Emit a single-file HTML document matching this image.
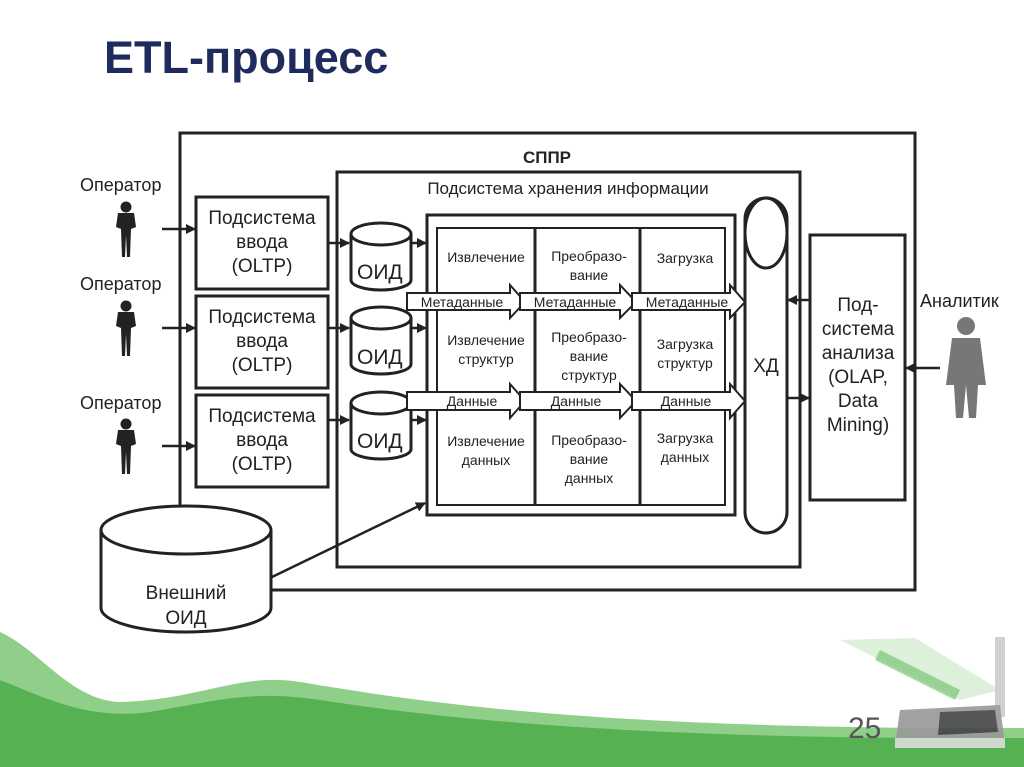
<!DOCTYPE html>
<html><head><meta charset="utf-8"><style>
html,body{margin:0;padding:0;background:#fff}
svg{display:block}
text{font-family:"Liberation Sans",sans-serif;fill:#222}
</style></head><body>
<svg width="1024" height="767" viewBox="0 0 1024 767" xmlns="http://www.w3.org/2000/svg">
<defs>
<marker id="ah" markerWidth="10" markerHeight="10" refX="9" refY="5" orient="auto" markerUnits="userSpaceOnUse"><path d="M0,0 L10,5 L0,10 z" fill="#222"/></marker>
<g id="op"><circle cx="0" cy="-22" r="5.5" fill="#222"/><path d="M-8,-16 L8,-16 L10,-2 L5,0 L4,28 L1,28 L0,6 L-1,28 L-4,28 L-5,0 L-10,-2 z" fill="#222"/></g>
</defs>
<path d="M0,632 C40,650 70,700 120,702 C200,700 240,672 300,682 C420,702 600,730 1024,728 L1024,767 L0,767 z" fill="#8fcf8a"/>
<path d="M0,680 C50,700 90,720 150,712 C220,700 250,690 320,700 C450,720 650,740 1024,738 L1024,767 L0,767 z" fill="#55b152"/>
<g opacity="0.9">
<path d="M840,640 L915,638 L1000,690 L960,700 z" fill="#bfe2bb" opacity="0.6"/>
<path d="M880,650 L960,690 L955,700 L875,660z" fill="#6fbf6a" opacity="0.7"/>
<rect x="995" y="637" width="10" height="80" fill="#ccc"/>
<path d="M900,710 L1000,705 L1005,745 L895,745 z" fill="#999"/>
<path d="M940,712 L995,710 L998,732 L938,735 z" fill="#444"/>
<path d="M895,738 L1005,738 L1005,748 L895,748z" fill="#ddd"/>
</g>
<text x="848" y="738" font-size="30" style="fill:#555">25</text>
<text x="104" y="73" font-size="45" font-weight="bold" style="fill:#1e2b5c">ETL-процесс</text>
<g fill="none" stroke="#222" stroke-width="3">
<rect x="180" y="133" width="735" height="457"/>
<rect x="337" y="172" width="463" height="395"/>
<rect x="427" y="215" width="308" height="300"/>
<rect x="437" y="228" width="288" height="277" stroke-width="2"/>
<rect x="196" y="197" width="132" height="92"/>
<rect x="196" y="296" width="132" height="92"/>
<rect x="196" y="395" width="132" height="92"/>
<rect x="810" y="235" width="95" height="265"/>
<rect x="745" y="198" width="42" height="335" rx="21"/>
<ellipse cx="766" cy="233" rx="21" ry="35"/>
</g>
<g stroke="#222" stroke-width="3">
<line x1="535" y1="228" x2="535" y2="505"/>
<line x1="640" y1="228" x2="640" y2="505"/>
</g>
<g fill="#fff" stroke="#222" stroke-width="3">
<path d="M351,234 L351,280 A30,10 0 0 0 411,280 L411,234"/><ellipse cx="381" cy="234" rx="30" ry="11"/>
<path d="M351,318 L351,364 A30,10 0 0 0 411,364 L411,318"/><ellipse cx="381" cy="318" rx="30" ry="11"/>
<path d="M351,403 L351,449 A30,10 0 0 0 411,449 L411,403"/><ellipse cx="381" cy="403" rx="30" ry="11"/>
<path d="M101,530 L101,608 A85,24 0 0 0 271,608 L271,530"/><ellipse cx="186" cy="530" rx="85" ry="24"/>
</g>
<g font-size="21"><text x="357" y="279">ОИД</text><text x="357" y="364">ОИД</text><text x="357" y="448">ОИД</text></g>
<text x="186" y="599" font-size="19" text-anchor="middle">Внешний</text>
<text x="186" y="624" font-size="19" text-anchor="middle">ОИД</text>
<g fill="#fff" stroke="#222" stroke-width="2">
<path d="M407,293 L510,293 L510,285 L525,302 L510,318 L510,310 L407,310 z"/>
<path d="M520,293 L620,293 L620,285 L636,302 L620,318 L620,310 L520,310 z"/>
<path d="M632,293 L730,293 L730,285 L745,302 L730,318 L730,310 L632,310 z"/>
<path d="M407,392 L510,392 L510,384 L525,401 L510,418 L510,410 L407,410 z"/>
<path d="M520,392 L620,392 L620,384 L636,401 L620,418 L620,410 L520,410 z"/>
<path d="M632,392 L730,392 L730,384 L745,401 L730,418 L730,410 L632,410 z"/>
</g>
<g font-size="14" text-anchor="middle">
<text x="462" y="307">Метаданные</text><text x="575" y="307">Метаданные</text><text x="687" y="307">Метаданные</text>
<text x="472" y="406">Данные</text><text x="576" y="406">Данные</text><text x="686" y="406">Данные</text>
<text x="486" y="262">Извлечение</text>
<text x="589" y="261">Преобразо-</text><text x="589" y="280">вание</text>
<text x="685" y="263">Загрузка</text>
<text x="486" y="345">Извлечение</text><text x="486" y="364">структур</text>
<text x="589" y="342">Преобразо-</text><text x="589" y="361">вание</text><text x="589" y="380">структур</text>
<text x="685" y="349">Загрузка</text><text x="685" y="368">структур</text>
<text x="486" y="446">Извлечение</text><text x="486" y="465">данных</text>
<text x="589" y="445">Преобразо-</text><text x="589" y="464">вание</text><text x="589" y="483">данных</text>
<text x="685" y="443">Загрузка</text><text x="685" y="462">данных</text>
</g>
<text x="547" y="163" font-size="17" font-weight="bold" text-anchor="middle">СППР</text>
<text x="568" y="194" font-size="17" text-anchor="middle">Подсистема хранения информации</text>
<text x="766" y="372" font-size="19" text-anchor="middle">ХД</text>
<g font-size="19" text-anchor="middle">
<text x="262" y="224">Подсистема</text><text x="262" y="248">ввода</text><text x="262" y="272">(OLTP)</text>
<text x="262" y="323">Подсистема</text><text x="262" y="347">ввода</text><text x="262" y="371">(OLTP)</text>
<text x="262" y="422">Подсистема</text><text x="262" y="446">ввода</text><text x="262" y="470">(OLTP)</text>
<text x="858" y="311">Под-</text><text x="858" y="335">система</text><text x="858" y="359">анализа</text><text x="858" y="383">(OLAP,</text><text x="858" y="407">Data</text><text x="858" y="431">Mining)</text>
</g>
<g font-size="18">
<text x="80" y="191">Оператор</text><text x="80" y="290">Оператор</text><text x="80" y="409">Оператор</text>
<text x="920" y="307">Аналитик</text>
</g>
<use href="#op" x="126" y="229"/><use href="#op" x="126" y="328"/><use href="#op" x="126" y="446"/>
<g fill="#777"><circle cx="966" cy="326" r="9"/><path d="M952,338 L980,338 L986,385 L978,385 L976,418 L969,418 L966,385 L963,418 L956,418 L954,385 L946,385 z"/></g>
<g stroke="#222" stroke-width="2.5" marker-end="url(#ah)" fill="none">
<line x1="162" y1="229" x2="195" y2="229"/><line x1="162" y1="328" x2="195" y2="328"/><line x1="162" y1="446" x2="195" y2="446"/>
<line x1="328" y1="243" x2="349" y2="243"/><line x1="328" y1="328" x2="349" y2="328"/><line x1="328" y1="420" x2="349" y2="420"/>
<line x1="412" y1="243" x2="426" y2="243"/><line x1="412" y1="328" x2="426" y2="328"/><line x1="412" y1="420" x2="426" y2="420"/>
<line x1="810" y1="300" x2="788" y2="300"/><line x1="788" y1="398" x2="809" y2="398"/>
<line x1="940" y1="368" x2="906" y2="368"/>
<line x1="272" y1="577" x2="425" y2="503"/>
</g>
</svg>
</body></html>
